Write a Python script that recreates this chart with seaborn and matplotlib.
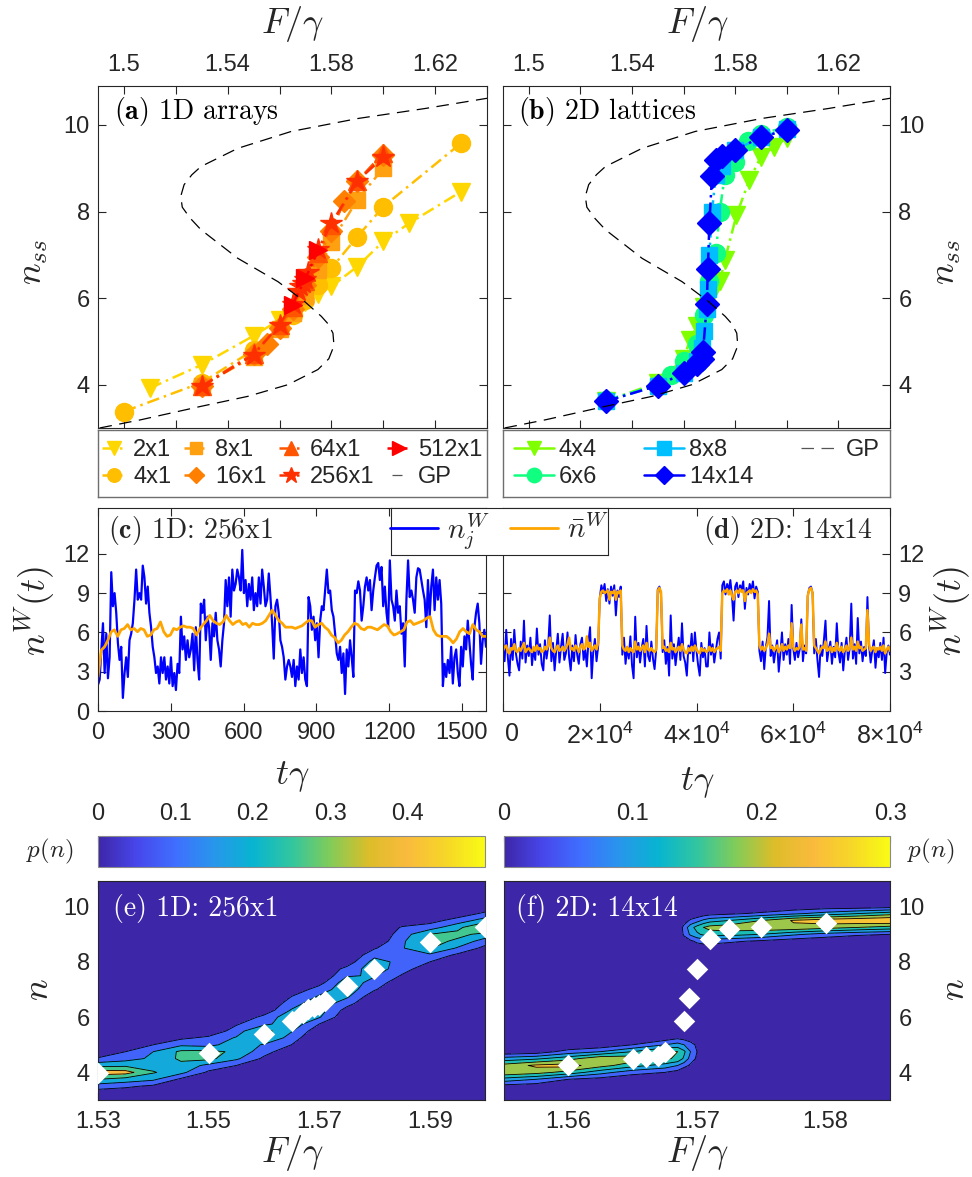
import numpy as np
import matplotlib
matplotlib.use("Agg")
import matplotlib.pyplot as plt
import seaborn as sns
from matplotlib.lines import Line2D
from matplotlib.colors import LinearSegmentedColormap, Normalize
from matplotlib.cm import ScalarMappable
from matplotlib.transforms import ScaledTranslation

# ------------------------------------------------------------------
# Mean-field (GP) steady-state curve
gp_F = [1.4906, 1.5065, 1.5297, 1.5477, 1.5632, 1.5748, 1.5790, 1.5810, 1.5806,
        1.5788, 1.5761, 1.5697, 1.5594, 1.5439, 1.5297, 1.5255, 1.5225, 1.5219,
        1.5232, 1.5262, 1.5297, 1.5439, 1.5645, 1.5903, 1.6161, 1.6404]
gp_n = [3.00, 3.19, 3.50, 3.73, 4.00, 4.35, 4.60, 4.90, 5.19, 5.40, 5.58, 5.92,
        6.38, 6.92, 7.58, 7.85, 8.10, 8.35, 8.62, 8.85, 9.04, 9.46, 9.85, 10.15,
        10.38, 10.62]

# 1D arrays: steady-state occupation n_ss vs drive F/gamma
F_2x1 = [1.51, 1.53, 1.55, 1.56, 1.565, 1.57, 1.575, 1.58, 1.59, 1.60, 1.61, 1.63]
n_2x1 = [3.92, 4.46, 5.13, 5.50, 5.70, 5.90, 6.10, 6.27, 6.73, 7.31, 7.73, 8.46]
F_4x1 = [1.50, 1.53, 1.55, 1.56, 1.565, 1.57, 1.575, 1.58, 1.59, 1.60, 1.63]
n_4x1 = [3.38, 4.05, 4.80, 5.30, 5.62, 5.95, 6.31, 6.69, 7.42, 8.11, 9.58]
F_8x1 = [1.53, 1.55, 1.56, 1.565, 1.57, 1.575, 1.58, 1.59, 1.60]
n_8x1 = [3.98, 4.65, 5.28, 5.65, 6.05, 6.65, 7.30, 8.27, 9.00]
F_16x1 = [1.53, 1.55, 1.555, 1.56, 1.565, 1.57, 1.575, 1.58, 1.585, 1.59, 1.60]
n_16x1 = [3.98, 4.70, 4.95, 5.30, 5.75, 6.30, 6.95, 7.55, 8.25, 8.70, 9.30]
F_64x1 = [1.53, 1.55, 1.56, 1.565, 1.57, 1.575, 1.58, 1.59, 1.60]
n_64x1 = [3.97, 4.72, 5.37, 5.80, 6.40, 7.05, 7.68, 8.70, 9.35]
F_256x1 = [1.53, 1.55, 1.56, 1.565, 1.567, 1.568, 1.569, 1.57, 1.571, 1.575, 1.58, 1.59, 1.60]
n_256x1 = [3.96, 4.69, 5.39, 5.87, 6.16, 6.28, 6.35, 6.45, 6.60, 7.14, 7.73, 8.71, 9.25]
F_512x1 = [1.565, 1.57, 1.575]
n_512x1 = [5.85, 6.46, 7.12]

# 2D lattices
F_4x4 = [1.53, 1.55, 1.56, 1.5625, 1.565, 1.568, 1.571, 1.574, 1.576, 1.5805, 1.5855, 1.59, 1.595, 1.60]
n_4x4 = [3.62, 4.05, 4.60, 5.04, 5.35, 5.80, 6.10, 6.39, 6.88, 7.92, 8.73, 9.27, 9.50, 9.69]
F_6x6 = [1.53, 1.55, 1.555, 1.56, 1.565, 1.568, 1.570, 1.5725, 1.574, 1.576, 1.58, 1.585, 1.59, 1.60]
n_6x6 = [3.64, 4.00, 4.23, 4.55, 4.95, 5.60, 6.40, 7.04, 8.00, 8.85, 9.15, 9.62, 9.80, 9.95]
F_8x8 = [1.53, 1.55, 1.56, 1.565, 1.567, 1.568, 1.569, 1.5695, 1.570, 1.571, 1.5725, 1.575, 1.58, 1.59, 1.60]
n_8x8 = [3.62, 3.98, 4.27, 4.55, 4.85, 5.25, 5.75, 6.20, 7.00, 8.00, 8.85, 9.05, 9.42, 9.72, 9.90]
F_14x14 = [1.53, 1.55, 1.56, 1.565, 1.566, 1.567, 1.5675, 1.569, 1.5694, 1.570, 1.571, 1.5725, 1.575, 1.58, 1.59, 1.60]
n_14x14 = [3.62, 3.98, 4.27, 4.47, 4.54, 4.59, 4.75, 5.86, 6.68, 7.73, 8.82, 9.18, 9.28, 9.42, 9.72, 9.88]

# Occupation trajectories, 1D 256x1 (site value and array mean)
nW_c_site = [
    2.0, 2.4, 4.7, 6.7, 2.9, 5.9, 2.5, 4.1, 10.6, 8.0,
    9.0, 7.5, 5.2, 3.9, 4.9, 1.0, 2.9, 4.1, 2.6, 5.4,
    5.9, 6.7, 8.5, 10.8, 8.5, 9.0, 8.5, 11.1, 10.2, 8.2,
    9.5, 7.5, 6.4, 4.9, 4.1, 2.9, 3.4, 2.1, 4.1, 2.9,
    4.1, 2.4, 3.4, 2.1, 4.1, 1.9, 2.9, 1.6, 3.6, 2.9,
    7.2, 4.7, 5.7, 3.9, 5.4, 4.1, 4.7, 5.9, 3.1, 6.4,
    3.9, 2.4, 8.2, 7.5, 8.5, 5.4, 7.2, 6.4, 3.9, 6.7,
    5.7, 7.5, 5.4, 4.7, 3.4, 5.4, 6.7, 10.0, 8.0, 10.2,
    7.2, 10.8, 9.2, 9.7, 10.8, 10.2, 9.2, 12.3, 9.0, 10.0,
    8.0, 9.7, 8.5, 10.2, 7.7, 9.0, 8.0, 10.2, 8.2, 10.8,
    9.5, 8.0, 8.5, 10.5, 8.7, 6.7, 4.0, 8.0, 8.5, 7.5,
    5.4, 4.9, 4.1, 2.4, 3.4, 3.9,
    3.4, 2.6, 3.9, 1.9, 3.4, 2.4, 4.7, 2.9, 4.1, 2.4,
    1.9, 8.7, 8.0, 6.2, 7.2, 5.4, 6.7, 4.1, 6.9, 8.0,
    7.7, 9.2, 10.8, 9.0, 9.2, 7.7, 7.2, 5.9, 4.4, 3.9,
    4.9, 2.9, 4.4, 1.3, 4.7, 3.4, 5.4, 4.1, 2.6, 9.2,
    9.0, 9.9, 9.2, 6.9, 8.0, 9.5, 10.2, 9.2, 10.0, 7.7,
    9.2, 10.2, 11.1, 11.3, 10.0, 11.0, 8.0, 9.5, 7.5, 6.4,
    11.5, 8.5, 8.0, 6.9, 9.2, 7.5, 8.0, 5.9, 6.7, 3.4,
    8.5, 11.5, 8.7, 9.2, 8.5, 7.5, 10.2, 10.9, 10.8, 10.0,
    9.2, 8.5, 6.4, 10.0, 7.2, 9.5, 10.8, 7.7, 10.2, 8.5,
    10.0, 8.2, 1.9, 3.6, 2.6, 3.9, 2.9, 4.9, 2.1, 4.1,
    4.7, 2.9, 1.9, 4.9, 3.4, 5.7, 4.7, 6.9, 5.2, 3.6,
    2.4, 6.4, 7.5, 8.2, 6.7, 3.6, 5.4, 6.2, 4.9]
nW_c_mean = [
    2.6, 4.65, 4.9, 5.4, 6.05, 6.2, 5.7, 6.2, 6.3, 6.6,
    6.2, 6.3, 6.05, 6.3, 6.2, 5.7, 5.8, 6.2, 6.3, 6.8,
    6.05, 5.7, 5.8, 6.3, 6.2, 6.4, 6.5, 6.4, 6.4, 6.3,
    5.8, 6.3, 6.6, 6.9, 7.3, 6.9, 6.7, 6.6, 6.8, 7.3,
    6.9, 6.6, 6.8, 6.9, 6.6, 6.7, 6.4, 6.7, 6.6, 6.6,
    6.7, 6.9, 7.3, 7.7, 7.3, 6.9, 6.7, 6.4, 6.4,
    6.4, 6.3, 6.4, 6.5, 6.7, 6.9, 6.9, 6.4, 6.6, 6.7,
    6.4, 6.2, 5.8, 5.6, 5.2, 5.4, 5.8, 6.05, 6.4, 6.7,
    6.6, 6.3, 6.2, 6.4, 6.4, 6.3, 6.2, 6.4, 6.6, 6.5,
    6.05, 5.8, 5.9, 6.05, 6.2, 6.8, 6.9, 6.6, 6.7, 6.8,
    6.9, 7.1, 7.2, 6.2, 5.8, 5.7, 5.7, 5.7, 5.5, 5.2,
    5.5, 6.05, 6.3, 6.05, 5.9, 6.6, 6.2, 6.05, 5.7, 5.7]

# Occupation trajectories, 2D 14x14 (site value and lattice mean)
nW_d_site = [
    5.2, 3.8, 6.2, 4.1, 2.7, 5.5, 3.9, 6.2, 4.4, 3.6,
    3.1, 5.3, 4.0, 6.9, 3.7, 5.0, 4.2, 5.6, 3.5, 4.8,
    3.9, 6.3, 4.3, 5.1, 3.6, 3.1, 5.4, 4.0, 4.9, 7.3,
    3.8, 5.2, 3.1, 4.6, 5.9, 3.7, 4.9, 5.9, 3.9, 4.4,
    6.0, 4.1, 3.1, 5.0, 3.8, 5.8, 4.3, 3.6, 5.1, 5.6,
    3.9, 4.7, 3.4, 5.3, 6.4, 2.5, 4.6, 5.5, 3.8, 4.9,
    8.6, 9.6, 9.0, 9.7, 8.4, 9.3, 8.2, 9.5, 8.8, 9.6, 7.3, 9.2, 8.7, 9.5,
    4.3, 5.6, 3.6, 4.9, 4.0, 5.7, 3.5, 2.5, 7.2, 4.1, 5.2, 3.7, 4.8, 5.5,
    3.4, 6.5, 4.2, 3.8, 5.3, 4.0, 3.2, 4.7,
    9.3, 9.5, 8.9,
    4.5, 5.4, 3.6, 4.9, 2.7, 7.3, 4.0, 5.1, 3.5, 4.6,
    5.6, 3.9, 6.7, 4.2, 3.7, 2.7, 5.0, 4.4, 5.9, 3.8,
    6.0, 4.6, 3.5, 2.7, 5.2, 4.1, 4.8, 3.4, 3.4, 6.0,
    4.3, 5.1, 3.7, 4.6, 5.5, 6.0, 4.0,
    9.6, 9.9, 8.9, 9.7, 9.2, 10.0, 8.8, 6.9, 9.5, 9.8, 8.7, 9.6,
    9.3, 9.9, 7.8, 9.4, 8.9, 9.7, 9.2, 9.9, 8.6, 9.5, 9.1,
    4.6, 3.8, 5.3, 3.2, 4.9, 5.6, 8.4, 4.2, 5.0, 3.7,
    4.6, 5.4, 3.0, 4.4, 6.0, 3.9, 5.1, 4.3, 5.5, 3.6,
    8.1, 4.8, 3.9, 5.2, 4.1, 4.7, 7.0, 3.8, 5.0, 4.4,
    8.8, 9.4, 9.5, 9.0,
    4.4, 5.5, 3.9, 2.6, 5.0, 4.2, 5.4, 6.9, 3.8, 4.7,
    5.3, 3.6, 4.9, 4.1, 6.7, 4.5, 3.7, 5.2, 3.1, 4.6,
    5.6, 3.9, 4.8, 8.2, 4.0, 5.1, 3.6, 7.1, 4.4, 5.3,
    3.8, 4.9, 4.2, 8.7, 5.0, 3.7, 4.6, 5.4, 3.3, 4.8,
    4.1, 5.2, 3.9, 5.6, 2.9, 4.5, 5.0, 4.3]
nW_d_mean = [
    4.6, 4.9, 5.0, 4.5, 4.4, 4.8, 4.7, 5.1, 4.6, 4.5,
    4.8, 4.6, 4.9, 5.2, 4.5, 4.7, 4.8, 4.6, 4.5, 4.9,
    4.6, 5.0, 4.7, 4.8, 4.5, 4.6, 4.9, 4.7, 5.0, 5.6,
    4.8, 4.6, 4.5, 4.8, 5.0, 4.6, 4.7, 4.9, 4.6, 4.8,
    5.1, 5.6, 4.7, 4.8, 4.6, 5.0, 4.8, 4.5, 4.9, 5.1,
    4.7, 4.8, 5.7, 4.9, 5.2, 4.6, 4.8, 5.0, 4.7, 5.2,
    8.6, 9.1, 9.2, 9.0, 9.1, 9.2, 8.5, 9.1, 9.0, 9.2, 8.5, 9.1, 9.0, 9.2,
    5.0, 4.7, 4.6, 4.9, 4.5, 4.8, 4.6, 4.5, 5.3, 4.7, 4.9, 4.6, 4.8, 5.0,
    4.5, 5.2, 4.7, 4.6, 4.8, 4.6, 4.5, 4.7,
    9.2, 9.4, 9.1,
    4.8, 4.9, 4.6, 4.7, 4.5, 5.2, 4.7, 4.8, 4.5, 4.7,
    4.9, 4.6, 5.1, 4.7, 4.5, 4.4, 4.8, 4.6, 4.9, 4.6,
    5.0, 4.7, 4.5, 4.4, 4.8, 4.6, 4.7, 4.5, 4.6, 4.9,
    4.6, 4.8, 4.5, 4.7, 4.8, 4.9, 4.6,
    9.0, 9.2, 9.1, 9.3, 8.9, 9.2, 8.8, 8.5, 9.1, 9.2, 9.0, 9.3,
    9.1, 9.2, 8.4, 9.0, 9.1, 9.2, 9.0, 9.3, 9.1, 9.2, 8.9,
    5.0, 4.7, 4.9, 4.6, 4.8, 5.1, 5.9, 4.8, 4.9, 4.6,
    4.8, 5.0, 4.5, 4.7, 5.1, 4.6, 4.9, 4.7, 5.0, 4.8,
    6.7, 4.9, 4.6, 4.8, 4.7, 4.9, 6.6, 4.7, 4.8, 4.6,
    8.8, 9.3, 9.4, 9.0,
    5.0, 4.8, 4.6, 4.4, 4.7, 4.9, 4.8, 5.3, 4.6, 4.7,
    4.9, 4.5, 4.8, 4.6, 5.2, 4.7, 4.6, 4.9, 4.5, 4.7,
    5.0, 4.6, 4.8, 5.6, 4.7, 4.9, 4.6, 5.3, 4.8, 4.9,
    4.6, 4.7, 4.8, 7.7, 5.1, 4.6, 4.8, 4.9, 4.5, 4.8,
    4.7, 4.9, 4.6, 5.0, 4.4, 4.7, 4.9, 4.6]
t_c_end = 1600
t_d_end = 80000

# Occupation histograms p(n), one column per drive value
n_step = 0.25
n_grid = np.arange(3.0, 11.0 + 1e-9, n_step)

F_e = [1.53, 1.535, 1.54, 1.545, 1.55, 1.555, 1.56, 1.565, 1.57, 1.575, 1.58, 1.585, 1.59, 1.595, 1.60]
pe_start = [3.25, 3.25, 3.25, 3.5, 3.75, 4.0, 4.25, 4.75, 5.5, 6.0, 6.75, 7.25, 7.75, 8.0, 8.25]
pe_vals = [
    [0.04, 0.15, 0.30, 0.45, 0.27, 0.11, 0.03],
    [0.03, 0.12, 0.26, 0.44, 0.28, 0.16, 0.10, 0.03],
    [0.02, 0.08, 0.22, 0.31, 0.25, 0.22, 0.20, 0.10, 0.02],
    [0.02, 0.08, 0.23, 0.27, 0.32, 0.32, 0.18, 0.08],
    [0.02, 0.08, 0.17, 0.33, 0.33, 0.16, 0.12, 0.03],
    [0.02, 0.10, 0.22, 0.28, 0.27, 0.21, 0.14, 0.09, 0.01],
    [0.02, 0.08, 0.14, 0.19, 0.32, 0.34, 0.17, 0.13, 0.03],
    [0.03, 0.10, 0.15, 0.21, 0.27, 0.27, 0.21, 0.15, 0.10, 0.02],
    [0.03, 0.10, 0.21, 0.25, 0.27, 0.21, 0.15, 0.06],
    [0.02, 0.06, 0.14, 0.22, 0.26, 0.26, 0.19, 0.13, 0.04],
    [0.03, 0.11, 0.16, 0.21, 0.26, 0.24, 0.17, 0.09, 0.02],
    [0.03, 0.09, 0.14, 0.17, 0.19, 0.19, 0.18, 0.15, 0.11, 0.03],
    [0.04, 0.10, 0.18, 0.31, 0.34, 0.30, 0.15, 0.06],
    [0.03, 0.08, 0.19, 0.28, 0.33, 0.27, 0.14, 0.04],
    [0.02, 0.07, 0.15, 0.27, 0.42, 0.25, 0.12, 0.03],
]

F_f = [1.555, 1.5575, 1.56, 1.5625, 1.565, 1.5675, 1.5685, 1.569, 1.5695,
       1.570, 1.5705, 1.571, 1.5725, 1.575, 1.5775, 1.58, 1.5825, 1.585]
pf_low_start = [3.5, 3.5, 3.5, 3.75, 3.75, 4.0, 4.0, 4.25, 4.25, 4.5,
                3.0, 3.0, 3.0, 3.0, 3.0, 3.0, 3.0, 3.0]
pf_low_vals = [
    [0.03, 0.13, 0.24, 0.22, 0.12, 0.01],
    [0.02, 0.10, 0.22, 0.26, 0.14, 0.02],
    [0.00, 0.05, 0.18, 0.27, 0.18, 0.07, 0.00],
    [0.03, 0.12, 0.22, 0.24, 0.10, 0.01],
    [0.01, 0.07, 0.17, 0.23, 0.15, 0.05],
    [0.05, 0.13, 0.21, 0.21, 0.10, 0.02],
    [0.03, 0.10, 0.19, 0.20, 0.12, 0.04],
    [0.07, 0.14, 0.16, 0.10, 0.03],
    [0.04, 0.08, 0.10, 0.07, 0.02],
    [0.04, 0.05, 0.04],
    [], [], [], [], [], [], [], [],
]
pf_up_start = [9.0, 9.0, 9.0, 9.0, 9.0, 9.0, 9.0,
               8.75, 8.75, 8.5, 8.5, 8.5, 8.5, 8.75, 8.75, 8.75, 9.0, 9.0]
pf_up_vals = [
    [], [], [], [], [], [], [],
    [0.02, 0.06, 0.07, 0.02],
    [0.04, 0.11, 0.13, 0.06],
    [0.02, 0.06, 0.14, 0.17, 0.08, 0.01],
    [0.02, 0.07, 0.16, 0.20, 0.11, 0.02],
    [0.02, 0.07, 0.17, 0.22, 0.13, 0.03],
    [0.01, 0.06, 0.17, 0.23, 0.15, 0.04],
    [0.04, 0.15, 0.24, 0.20, 0.06],
    [0.02, 0.11, 0.24, 0.255, 0.09, 0.01],
    [0.01, 0.08, 0.22, 0.28, 0.12, 0.02],
    [0.06, 0.20, 0.29, 0.15, 0.02],
    [0.05, 0.18, 0.30, 0.18, 0.03],
]

levels_e = [0.0, 0.1, 0.2, 0.3, 0.4, 0.5]
levels_f = [0.0, 0.05, 0.10, 0.15, 0.20, 0.25, 0.30]
cbar_e_ticks = [0.0, 0.1, 0.2, 0.3, 0.4]
cbar_f_ticks = [0.0, 0.1, 0.2, 0.3]

top_ticks = [1.50, 1.52, 1.54, 1.56, 1.58, 1.60, 1.62, 1.64]
top_ticklabels = ["1.5", "", "1.54", "", "1.58", "", "1.62", ""]
ticks_c = [0, 300, 600, 900, 1200, 1500]
ticks_d = [0, 20000, 40000, 60000, 80000]
ticklabels_d = [r"$\mathregular{0}$", r"$\mathregular{2{\times}10^{4}}$",
                r"$\mathregular{4{\times}10^{4}}$", r"$\mathregular{6{\times}10^{4}}$",
                r"$\mathregular{8{\times}10^{4}}$"]

# ------------------------------------------------------------------
sns.set_theme(style="white")
plt.rcParams["font.family"] = ["Liberation Sans", "DejaVu Sans"]
plt.rcParams["mathtext.fontset"] = "cm"
plt.rcParams["axes.unicode_minus"] = False

W, H = 972, 1177
fig = plt.figure(figsize=(W / 100, H / 100), dpi=100)
fig.patch.set_facecolor("white")

AX_COL = "#262626"
TICK_FS = 17
LABEL_FS = 26
PANEL_FS = 20
SERIF = "cmr10"


def px_axes(x0, y0, x1, y1, **kw):
    return fig.add_axes([x0 / W, 1 - y1 / H, (x1 - x0) / W, (y1 - y0) / H], **kw)


def px_text(x, y, s, **kw):
    return fig.text(x / W, 1 - y / H, s, **kw)


def style_axes(ax):
    ax.set_facecolor("white")
    for s in ax.spines.values():
        s.set_visible(True)
        s.set_color(AX_COL)
        s.set_linewidth(0.8)
    ax.tick_params(direction="in", length=6, width=0.8, color=AX_COL,
                   labelcolor=AX_COL, labelsize=TICK_FS,
                   top=True, bottom=True, left=True, right=True)


def panel_label(ax, x, y, s, **kw):
    ax.text(x, y, s, transform=ax.transAxes, fontsize=PANEL_FS, va="center",
            family=SERIF, **kw)


parula_anchors = [
    (0.2422, 0.1504, 0.6603), (0.2803, 0.2782, 0.9221), (0.2440, 0.4358, 0.9988),
    (0.1540, 0.5902, 0.9218), (0.0297, 0.7082, 0.8163), (0.1938, 0.7758, 0.6251),
    (0.5044, 0.7993, 0.3480), (0.8634, 0.7406, 0.1596), (0.9800, 0.7300, 0.2400),
    (0.9650, 0.8400, 0.1550), (0.9769, 0.9839, 0.0805)]
parula = LinearSegmentedColormap.from_list("parula", parula_anchors, N=256)

DASHDOT = (0, (5, 2, 1, 2))
GP_DASH = (0, (10, 6))
GP_SHORT = (14, (8, 10))   # one centred dash in a short legend handle

series_1d = [
    ("2x1", F_2x1, n_2x1, "#FFD700", "v", 13),
    ("4x1", F_4x1, n_4x1, "#FFBF00", "o", 13),
    ("8x1", F_8x1, n_8x1, "#FFA010", "s", 11),
    ("16x1", F_16x1, n_16x1, "#FF8000", "D", 11),
    ("64x1", F_64x1, n_64x1, "#FF5500", "^", 13),
    ("256x1", F_256x1, n_256x1, "#FF3000", "*", 16),
    ("512x1", F_512x1, n_512x1, "#FF0000", ">", 13),
]
series_2d = [
    ("4x4", F_4x4, n_4x4, "#80FF00", "v", 13),
    ("6x6", F_6x6, n_6x6, "#10FF80", "o", 13),
    ("8x8", F_8x8, n_8x8, "#00BFFF", "s", 12),
    ("14x14", F_14x14, n_14x14, "#0000FF", "D", 12),
]


def draw_branch(ax, series):
    for lab, F, n, col, mk, ms in series:
        sns.lineplot(x=F, y=n, ax=ax, color=col, marker=mk, markersize=ms,
                     markeredgecolor=col, markeredgewidth=1.0, linestyle=DASHDOT,
                     linewidth=1.8, estimator=None, sort=False, legend=False)
    sns.lineplot(x=gp_F, y=gp_n, ax=ax, color="black", linestyle=GP_DASH,
                 linewidth=0.9, estimator=None, sort=False, legend=False)
    ax.set_xlim(1.49, 1.64)
    ax.set_ylim(3.0, 10.9)
    ax.set_xticks(top_ticks)
    ax.set_xticklabels(top_ticklabels)
    ax.set_yticks([4, 6, 8, 10])
    ax.set_xlabel("")
    ax.set_ylabel("")
    style_axes(ax)
    ax.tick_params(axis="x", labeltop=True, labelbottom=False, pad=7)


# ---------------- (a) and (b) ----------------
ax_a = px_axes(98, 86, 487, 428)
draw_branch(ax_a, series_1d)
ax_a.tick_params(axis="y", labelleft=True, labelright=False, pad=6)
panel_label(ax_a, 0.04, 0.925, r"$\mathbf{(a)}$ 1D arrays", ha="left", color="black")

ax_b = px_axes(503, 86, 890, 428)
draw_branch(ax_b, series_2d)
ax_b.tick_params(axis="y", labelleft=False, labelright=True, pad=6)
panel_label(ax_b, 0.04, 0.925, r"$\mathbf{(b)}$ 2D lattices", ha="left", color="black")

px_text(292, 24, r"$F/\gamma$", fontsize=LABEL_FS, ha="center", va="center")
px_text(697, 24, r"$F/\gamma$", fontsize=LABEL_FS, ha="center", va="center")
px_text(33, 262, r"$n_{ss}$", fontsize=LABEL_FS, ha="center", va="center", rotation=90)
px_text(945, 262, r"$n_{ss}$", fontsize=LABEL_FS, ha="center", va="center", rotation=90)


# ---------------- legend boxes ----------------
def legend_box(x0, y0, x1, y1, handles, labels, **kw):
    lax = px_axes(x0, y0, x1, y1)
    lax.set_xticks([])
    lax.set_yticks([])
    for s in lax.spines.values():
        s.set_visible(True)
        s.set_color("#6e6e6e")
        s.set_linewidth(1.0)
    lax.set_facecolor("white")
    lax.legend(handles, labels, loc="center", frameon=False, fontsize=17,
               borderaxespad=0, borderpad=0, **kw)
    return lax


h_a = [Line2D([], [], color=c, marker=m, markersize=ms * 0.75, markeredgecolor=c,
              linestyle=DASHDOT, linewidth=1.8) for _, _, _, c, m, ms in series_1d]
h_a.append(Line2D([], [], color="#555555", linestyle=GP_SHORT, linewidth=0.9))
lab_a = [s[0] for s in series_1d] + ["GP"]
legend_box(98, 430, 487, 497, h_a, lab_a, ncol=4, handlelength=1.0,
           handletextpad=0.3, columnspacing=0.55, labelspacing=0.2)

h_b = [Line2D([], [], color=c, marker=m, markersize=ms * 0.8, markeredgecolor=c,
              linestyle="-", linewidth=1.8) for _, _, _, c, m, ms in series_2d]
h_b.append(Line2D([], [], color="#555555", linestyle=GP_DASH, linewidth=0.9))
lab_b = [s[0] for s in series_2d] + ["GP"]
legend_box(503, 430, 890, 497, h_b, lab_b, ncol=3, handlelength=1.7,
           handletextpad=0.2, columnspacing=2.0, labelspacing=0.2)

# ---------------- (c) and (d) ----------------
BLUE = "#0000FF"
ORANGE = "#FFA500"

ax_c = px_axes(98, 508, 486, 711)
sns.lineplot(x=np.linspace(0, t_c_end, len(nW_c_site)), y=nW_c_site, ax=ax_c,
             color=BLUE, linewidth=1.6, estimator=None, sort=False, legend=False)
sns.lineplot(x=np.linspace(0, t_c_end, len(nW_c_mean)), y=nW_c_mean, ax=ax_c,
             color=ORANGE, linewidth=2.0, estimator=None, sort=False, legend=False)
ax_c.set_xlim(0, t_c_end)
ax_c.set_ylim(0, 15.5)
ax_c.set_xticks(ticks_c)
ax_c.set_yticks([0, 3, 6, 9, 12])
ax_c.set_xlabel("")
ax_c.set_ylabel("")
style_axes(ax_c)
ax_c.tick_params(axis="x", pad=8)
ax_c.tick_params(axis="y", pad=6)
panel_label(ax_c, 0.025, 0.89, r"$\mathbf{(c)}$ 1D: 256x1", ha="left")

ax_d = px_axes(503, 508, 890, 711)
sns.lineplot(x=np.linspace(0, t_d_end, len(nW_d_site)), y=nW_d_site, ax=ax_d,
             color=BLUE, linewidth=1.4, estimator=None, sort=False, legend=False)
sns.lineplot(x=np.linspace(0, t_d_end, len(nW_d_mean)), y=nW_d_mean, ax=ax_d,
             color=ORANGE, linewidth=1.8, estimator=None, sort=False, legend=False)
ax_d.set_xlim(0, t_d_end)
ax_d.set_ylim(0, 15.5)
ax_d.set_xticks(ticks_d)
ax_d.set_xticklabels(ticklabels_d)
ax_d.set_yticks([3, 6, 9, 12])
ax_d.set_xlabel("")
ax_d.set_ylabel("")
style_axes(ax_d)
ax_d.tick_params(axis="x", pad=8, labelsize=18)
ax_d.tick_params(axis="y", labelleft=False, labelright=True, pad=6)
# the zero label sits slightly inside the axis
zero_lbl = ax_d.get_xticklabels()[0]
zero_lbl.set_transform(zero_lbl.get_transform() + ScaledTranslation(0.09, 0, fig.dpi_scale_trans))
panel_label(ax_d, 0.955, 0.89, r"$\mathbf{(d)}$ 2D: 14x14", ha="right")

px_text(35, 611, r"$n^W(t)$", fontsize=LABEL_FS, ha="center", va="center", rotation=90)
px_text(951, 611, r"$n^W(t)$", fontsize=LABEL_FS, ha="center", va="center", rotation=90)
px_text(292, 776, r"$t\gamma$", fontsize=LABEL_FS, ha="center", va="center")
px_text(697, 782, r"$t\gamma$", fontsize=LABEL_FS, ha="center", va="center")

# shared legend for the trajectories
lax = px_axes(391, 508, 608, 555, zorder=10)
lax.set_xticks([])
lax.set_yticks([])
lax.set_facecolor("white")
for s in lax.spines.values():
    s.set_visible(True)
    s.set_color(AX_COL)
    s.set_linewidth(0.8)
lax.legend([Line2D([], [], color=BLUE, linewidth=2.0),
            Line2D([], [], color=ORANGE, linewidth=2.0)],
           [r"$n_j^W$", r"$\bar{n}^W$"], loc="center", ncol=2, frameon=False,
           fontsize=21, handlelength=1.65, handletextpad=0.3, columnspacing=0.7,
           borderaxespad=0, borderpad=0)


# ---------------- (e) and (f) ----------------
def column_grid(F_cols, windows):
    Z = np.zeros((len(n_grid), len(F_cols)))
    for starts, vals in windows:
        for j, (s, v) in enumerate(zip(starts, vals)):
            if len(v) == 0:
                continue
            i0 = int(round((s - n_grid[0]) / n_step))
            Z[i0:i0 + len(v), j] += np.asarray(v)
    return Z


P_e = column_grid(F_e, [(pe_start, pe_vals)])
P_f = column_grid(F_f, [(pf_low_start, pf_low_vals), (pf_up_start, pf_up_vals)])

bands_e = [parula(v) for v in (0.0, 0.17, 0.36, 0.52, 0.80)]
bands_f = [parula(v) for v in (0.0, 0.17, 0.33, 0.45, 0.63, 0.83)]


def draw_hist(ax, F_cols, P, levels, bands, F_pts, n_pts, xlim, xticks):
    ax.contourf(F_cols, n_grid, P, levels=levels, colors=bands)
    ax.contour(F_cols, n_grid, P, levels=levels[1:-1], colors="black", linewidths=0.6)
    sns.scatterplot(x=F_pts, y=n_pts, ax=ax, marker="D", s=120, color="white",
                    edgecolor="white", linewidth=0, zorder=5, legend=False)
    ax.set_xlim(*xlim)
    ax.set_ylim(3.0, 10.93)
    ax.set_xticks(xticks)
    ax.set_yticks([4, 6, 8, 10])
    ax.set_xlabel("")
    ax.set_ylabel("")
    style_axes(ax)
    ax.set_facecolor(bands[0])
    ax.tick_params(axis="x", pad=8)
    ax.tick_params(axis="y", pad=6)


ax_e = px_axes(98, 881, 485, 1100)
draw_hist(ax_e, F_e, P_e, levels_e, bands_e, F_256x1, n_256x1, (1.53, 1.60),
          [1.53, 1.55, 1.57, 1.59])
panel_label(ax_e, 0.04, 0.875, "(e) 1D: 256x1", ha="left", color="white")

ax_f = px_axes(504, 881, 890, 1100)
draw_hist(ax_f, F_f, P_f, levels_f, bands_f, F_14x14, n_14x14, (1.555, 1.585),
          [1.56, 1.57, 1.58])
ax_f.tick_params(axis="y", labelleft=False, labelright=True)
panel_label(ax_f, 0.03, 0.875, "(f) 2D: 14x14", ha="left", color="white")

px_text(38, 990, r"$n$", fontsize=LABEL_FS, ha="center", va="center", rotation=90)
px_text(954, 990, r"$n$", fontsize=LABEL_FS, ha="center", va="center", rotation=90)
px_text(292, 1153, r"$F/\gamma$", fontsize=LABEL_FS, ha="center", va="center")
px_text(697, 1153, r"$F/\gamma$", fontsize=LABEL_FS, ha="center", va="center")


# colour scales
def draw_cbar(x0, x1, vmax, ticks):
    cax = px_axes(x0, 836, x1, 867)
    cb = fig.colorbar(ScalarMappable(norm=Normalize(0, vmax), cmap=parula),
                      cax=cax, orientation="horizontal")
    cb.set_ticks(ticks)
    cb.set_ticklabels(["0" if t == 0 else f"{t:g}" for t in ticks])
    cax.xaxis.set_ticks_position("top")
    cax.tick_params(direction="in", length=4, width=0.8, color=AX_COL,
                    labelcolor=AX_COL, labelsize=TICK_FS, pad=8)
    cb.outline.set_edgecolor("#8a8a8a")
    cb.outline.set_linewidth(0.8)
    return cb


draw_cbar(98, 485, 0.5, cbar_e_ticks)
draw_cbar(504, 890, 0.3, cbar_f_ticks)
px_text(50, 851, r"$p(n)$", fontsize=18, ha="center", va="center")
px_text(931, 851, r"$p(n)$", fontsize=18, ha="center", va="center")

fig.savefig("out.png", dpi=100, facecolor="white")
